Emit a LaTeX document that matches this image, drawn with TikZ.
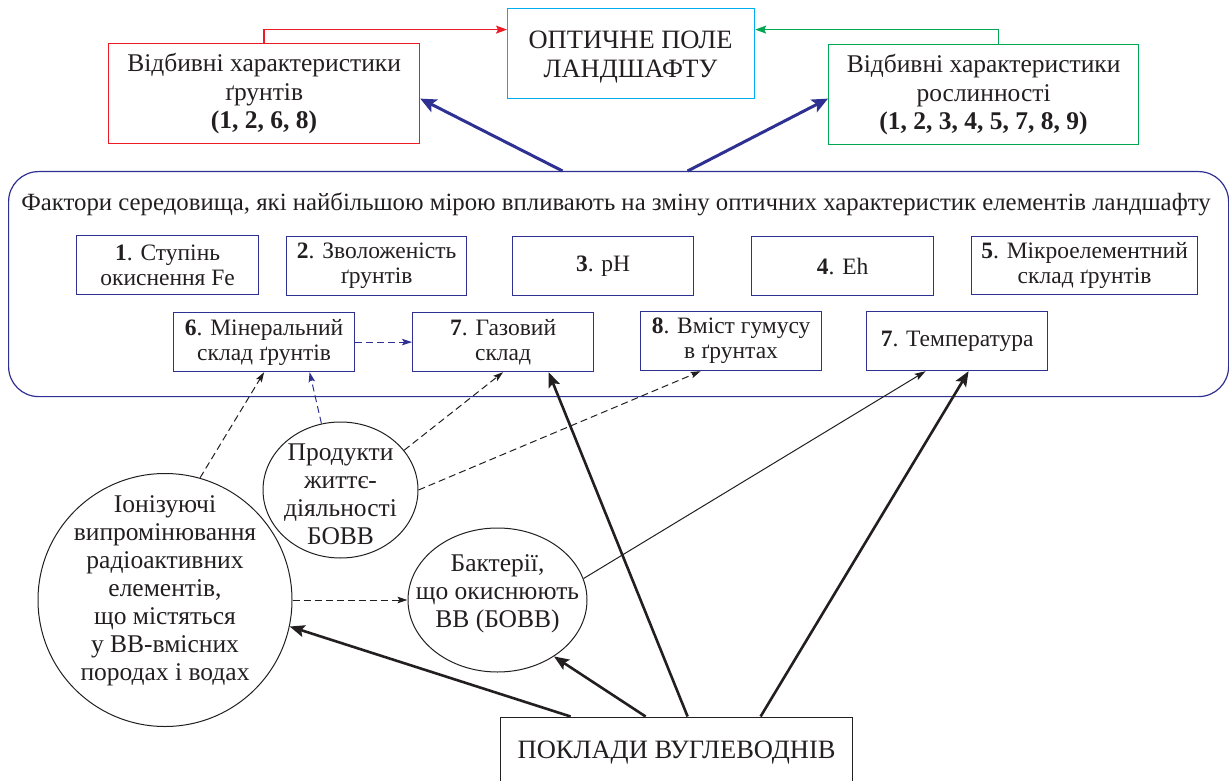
\documentclass[tikz,border=0pt]{standalone}
\usepackage{fontspec}
\setmainfont{LiberationSerif}[Extension=.ttf, UprightFont=*-Regular, BoldFont=*-Bold, ItalicFont=*-Italic, BoldItalicFont=*-BoldItalic]
\usetikzlibrary{arrows.meta,shapes.geometric}
\definecolor{navyc}{RGB}{46,49,146}
\definecolor{redc}{RGB}{237,28,36}
\definecolor{greenc}{RGB}{0,166,81}
\definecolor{cyanc}{RGB}{0,174,239}
\definecolor{inkc}{RGB}{35,31,32}
\begin{document}
\begin{tikzpicture}[x=1pt,y=-1pt,
  caps/.style={font=\fontsize{26.5}{29}\selectfont, align=center, text=inkc},
  big/.style={font=\fontsize{25.5}{28.5}\selectfont, align=center, text=inkc},
  circtext/.style={font=\fontsize{25.5}{28}\selectfont, align=center, text=inkc},
  small/.style={font=\fontsize{23.5}{25}\selectfont, align=center, text=inkc},
  topbox/.style={draw, line width=1.2pt, inner sep=0pt, anchor=north west, big},
  fbox/.style={draw=navyc, line width=1.2pt, inner sep=0pt, anchor=north west, minimum width=181pt, minimum height=59pt, small},
  circ/.style={draw=inkc, line width=1pt, ellipse, inner sep=0pt},
  navyarrow/.style={draw=navyc, line width=3pt, -{Stealth[length=16pt,width=14pt,inset=3.5pt]}},
  thickarrow/.style={draw=inkc, line width=2.6pt, -{Stealth[length=15pt,width=12pt,inset=3pt]}},
  thinarrow/.style={draw=inkc, line width=1pt, -{Stealth[length=11pt,width=7pt,inset=2pt]}},
  dsh/.style={line width=1pt, dash pattern=on 7pt off 4pt, -{Stealth[length=10pt,width=6.5pt,inset=2pt]}},
  colline/.style={line width=1.3pt, -{Stealth[length=11pt,width=8pt,inset=2pt]}}
]
\useasboundingbox (0,0) rectangle (1229,781);

% top level
\node[topbox, draw=cyanc, minimum width=247pt, minimum height=90pt] (opt) at (507,8) {};
\node[caps] (opttxt) at (630.5,57.5) {ОПТИЧНЕ ПОЛЕ\\ЛАНДШАФТУ};
\node[topbox, draw=redc, minimum width=311pt, minimum height=100pt] (red) at (108,43) {Відбивні характеристики\\ґрунтів\\\textbf{(1, 2, 6, 8)}};
\node[topbox, draw=greenc, minimum width=310pt, minimum height=100pt] (grn) at (828,44) {Відбивні характеристики\\рослинності\\\textbf{(1, 2, 3, 4, 5, 7, 8, 9)}};

% environment block
\node[draw=navyc, line width=1.2pt, rounded corners=30pt, minimum width=1220pt, minimum height=225pt, anchor=north west, inner sep=0pt] (env) at (8,171) {};
\node[font=\fontsize{24.8}{27}\selectfont, text=inkc] (hdr) at (616,204) {Фактори середовища, які найбільшою мірою впливають на зміну оптичних характеристик елементів ландшафту};

\node[fbox, minimum width=182pt] (f1) at (76,235) {\textbf{1}. Ступінь\\окиснення Fe};
\node[fbox, minimum width=180pt] (f2) at (286,236) {\textbf{2}. Зволоженість\\ґрунтів};
\node[fbox, minimum width=181pt] (f3) at (512,236) {\textbf{3}. pH};
\node[fbox, minimum width=182pt] (f4) at (751,236) {\textbf{4}. Eh};
\node[fbox, minimum width=226pt, minimum height=58pt] (f5) at (971,236) {\textbf{5}. Мікроелементний\\склад ґрунтів};

\node[fbox] (m6) at (173,312) {\textbf{6}. Мінеральний\\склад ґрунтів};
\node[fbox] (g7) at (412,312) {\textbf{7}. Газовий\\склад};
\node[fbox] (v8) at (640,311) {\textbf{8}. Вміст гумусу\\в ґрунтах};
\node[fbox] (t7) at (866,311) {\textbf{7}. Температура};

% circles
\node[circ, minimum width=254pt, minimum height=253pt] (ion) at (165,600) {};
\node[circtext] (iontxt) at (165,591) {Іонізуючі\\випромінювання\\радіоактивних\\елементів,\\що містяться\\у ВВ-вмісних\\породах і водах};
\node[circ, minimum width=155pt, minimum height=136pt] (prod) at (340.5,490) {};
\node[circtext] (prodtxt) at (340.5,494) {Продукти\\життє-\\діяльності\\БОВВ};
\node[circ, minimum width=179pt, minimum height=144pt] (bact) at (497.5,600) {};
\node[circtext] (bacttxt) at (497.5,594) {Бактерії,\\що окиснюють\\ВВ (БОВВ)};

\node[draw=inkc, line width=1.2pt, inner sep=0pt, anchor=north west, minimum width=352pt, minimum height=70pt, caps] (dep) at (500,716.5) {ПОКЛАДИ ВУГЛЕВОДНІВ};

% top connectors
\draw[colline, draw=redc] (red.north) |- ([yshift=24pt]opt.west);
\draw[colline, draw=greenc] ([xshift=15pt]grn.north) |- ([yshift=24pt]opt.east);
\draw[navyarrow] ([xshift=-56pt]env.north) -- ([yshift=-5pt]red.east);
\draw[navyarrow] ([xshift=69pt]env.north) -- ([yshift=-4pt]grn.west);

% inner connectors
\draw[dsh, draw=navyc] (m6.east) -- (g7.west);
\draw[dsh, draw=inkc] (ion.74) -- (m6.south);
\draw[dsh, draw=navyc] (prod.106) -- ([xshift=45.5pt]m6.south);
\draw[dsh, draw=inkc] (prod.32) -- (g7.south);
\draw[dsh, draw=inkc] (prod.east) -- ([xshift=-30.5pt]v8.south);
\draw[dsh, draw=inkc] (ion.east) -- (bact.west);
\draw[thinarrow] (bact.14) -- ([xshift=-31.5pt]t7.south);

% from deposits
\draw[thickarrow] ([xshift=-106pt]dep.north) -- (ion.-12);
\draw[thickarrow] ([xshift=-31pt]dep.north) -- (bact.-45);
\draw[thickarrow] ([xshift=11pt]dep.north) -- ([xshift=45.5pt]g7.south);
\draw[thickarrow] ([xshift=84pt]dep.north) -- ([xshift=11.5pt]t7.south);
\end{tikzpicture}
\end{document}
